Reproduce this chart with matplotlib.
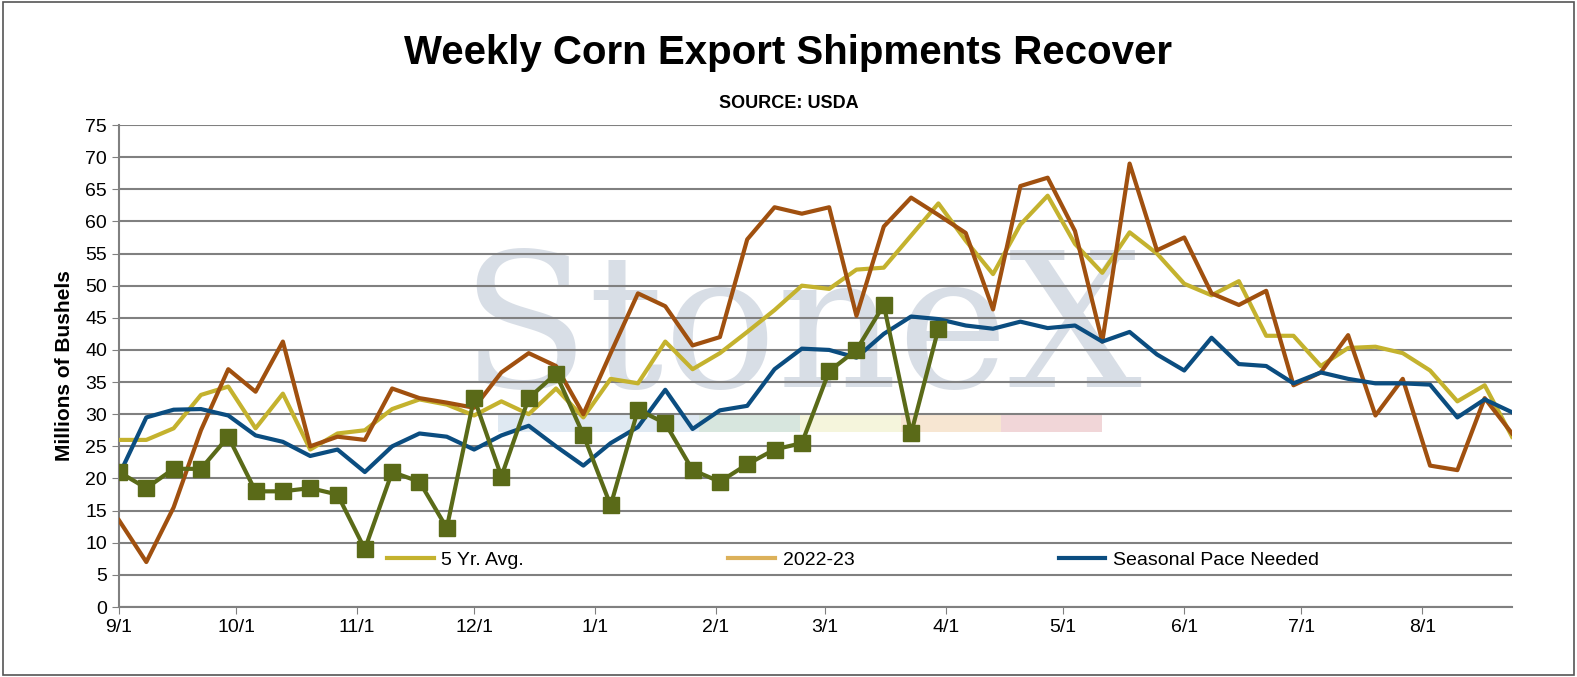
import numpy as np
import matplotlib.pyplot as plt
from matplotlib.patches import Rectangle

# weekly data, week 0 = 9/1
avg5 = [26, 26, 27.8, 33, 34.3, 27.8, 33.2, 24.5, 27, 27.5, 30.8, 32.3, 31.5, 29.8, 32, 30,
        34, 29.5, 35.5, 34.8, 41.3, 37, 39.5, 42.8, 46.2, 50, 49.5, 52.5, 52.8, 57.8, 62.8, 57,
        51.8, 59.5, 64, 56.5, 52, 58.3, 55, 50.3, 48.5, 50.7, 42.2, 42.2, 37.5, 40.3, 40.5, 39.5,
        36.8, 32, 34.5, 26.5]
y2223 = [13.5, 7, 15.5, 27.5, 37, 33.5, 41.3, 25, 26.5, 26, 34, 32.5, 31.8, 31, 36.5, 39.5,
         37.5, 30, 39.5, 48.8, 46.8, 40.7, 42, 57.2, 62.2, 61.2, 62.2, 45.3, 59.2, 63.7, 61, 58.2,
         46.3, 65.5, 66.8, 58.5, 41.3, 69, 55.5, 57.5, 48.8, 47, 49.2, 34.5, 36.5, 42.3, 29.8, 35.5,
         22, 21.3, 32.5, 27]
pace = [20.5, 29.5, 30.7, 30.8, 29.8, 26.7, 25.7, 23.5, 24.5, 21, 25, 27, 26.5, 24.5, 26.7, 28.2,
        25, 22, 25.5, 28, 33.8, 27.7, 30.6, 31.3, 37, 40.2, 40, 38.8, 42.5, 45.2, 44.8, 43.8,
        43.3, 44.4, 43.4, 43.8, 41.3, 42.8, 39.3, 36.8, 41.9, 37.8, 37.5, 34.8, 36.5, 35.5, 34.8,
        34.8, 34.6, 29.5, 32.3, 30.3]
y2324 = [21, 18.5, 21.5, 21.5, 26.5, 18, 18, 18.5, 17.5, 9, 21, 19.5, 12.3, 32.5, 20.3, 32.5,
         36.3, 26.8, 15.8, 30.7, 28.6, 21.3, 19.5, 22.2, 24.5, 25.5, 36.7, 40, 47, 27, 43.3]
tick_days = [0, 30, 61, 91, 122, 153, 181, 212, 242, 273, 303, 334]
tick_labels = ['9/1', '10/1', '11/1', '12/1', '1/1', '2/1', '3/1', '4/1', '5/1', '6/1', '7/1', '8/1']

days = np.arange(len(avg5)) * 7
days24 = np.arange(len(y2324)) * 7

plt.rcParams['font.family'] = ['Arial', 'Liberation Sans', 'DejaVu Sans']
fig = plt.figure(figsize=(15.77, 6.77), dpi=100)
ax = fig.add_axes([119 / 1577, 1 - 607 / 677, (1512 - 119) / 1577, (607 - 125) / 677])

# border around the whole figure
fig.patches.append(Rectangle((0.002, 0.003), 0.996, 0.994, transform=fig.transFigure,
                             fill=False, edgecolor='#555555', lw=1.2))

# faint watermark
ax.text(0.49, 0.565, 'StoneX', transform=ax.transAxes, fontsize=135, family='serif',
        color='#cfd6e0', ha='center', va='center', zorder=0, alpha=0.8)
wm_cols = ['#dfe9f2', '#dfe9f2', '#d7e6de', '#f5f5dc', '#f7e6d2', '#f1d6d8']
for k, c in enumerate(wm_cols):
    ax.axhspan(27.3, 29.8, xmin=0.272 + k * 0.0723, xmax=0.272 + (k + 1) * 0.0723,
               color=c, zorder=0, lw=0)

ax.plot(days, avg5, color='#c4b22e', lw=3, zorder=3)
ax.plot(days, y2223, color='#a0500f', lw=3, zorder=3)
ax.plot(days, pace, color='#0b4d80', lw=3, zorder=3)
ax.plot(days24, y2324, color='#5a6a18', lw=3, marker='s', markersize=11, zorder=4)

h1, = ax.plot([], [], color='#c4b22e', lw=3)
h2, = ax.plot([], [], color='#dcb15a', lw=3)
h3, = ax.plot([], [], color='#0b4d80', lw=3)
ax.legend([h1, h2, h3], ['5 Yr. Avg.', '2022-23', 'Seasonal Pace Needed'], ncol=3,
          loc='center', bbox_to_anchor=(0.527, 0.097), frameon=False, fontsize=14,
          handlelength=2.4, handletextpad=0.4, columnspacing=10.5)

ax.set_xlim(0, 357)
ax.set_ylim(0, 75)
ax.set_yticks(np.arange(0, 80, 5))
ax.set_xticks(tick_days)
ax.set_xticklabels(tick_labels)
ax.tick_params(labelsize=14, direction='out', length=5, color='#808080')
ax.grid(axis='y', color='#808080', lw=1.5)
ax.set_axisbelow(True)
for s in ['top', 'right']:
    ax.spines[s].set_visible(False)
for s in ['left', 'bottom']:
    ax.spines[s].set_color('#808080')
    ax.spines[s].set_linewidth(1.5)
ax.set_ylabel('Millions of Bushels', fontsize=15, fontweight='bold', labelpad=8)

fig.text(0.5, 0.905, 'Weekly Corn Export Shipments Recover', ha='center', fontsize=29,
         fontweight='bold')
fig.text(0.5, 0.84, 'SOURCE: USDA', ha='center', fontsize=13, fontweight='bold')

fig.savefig('out.png', dpi=100)
